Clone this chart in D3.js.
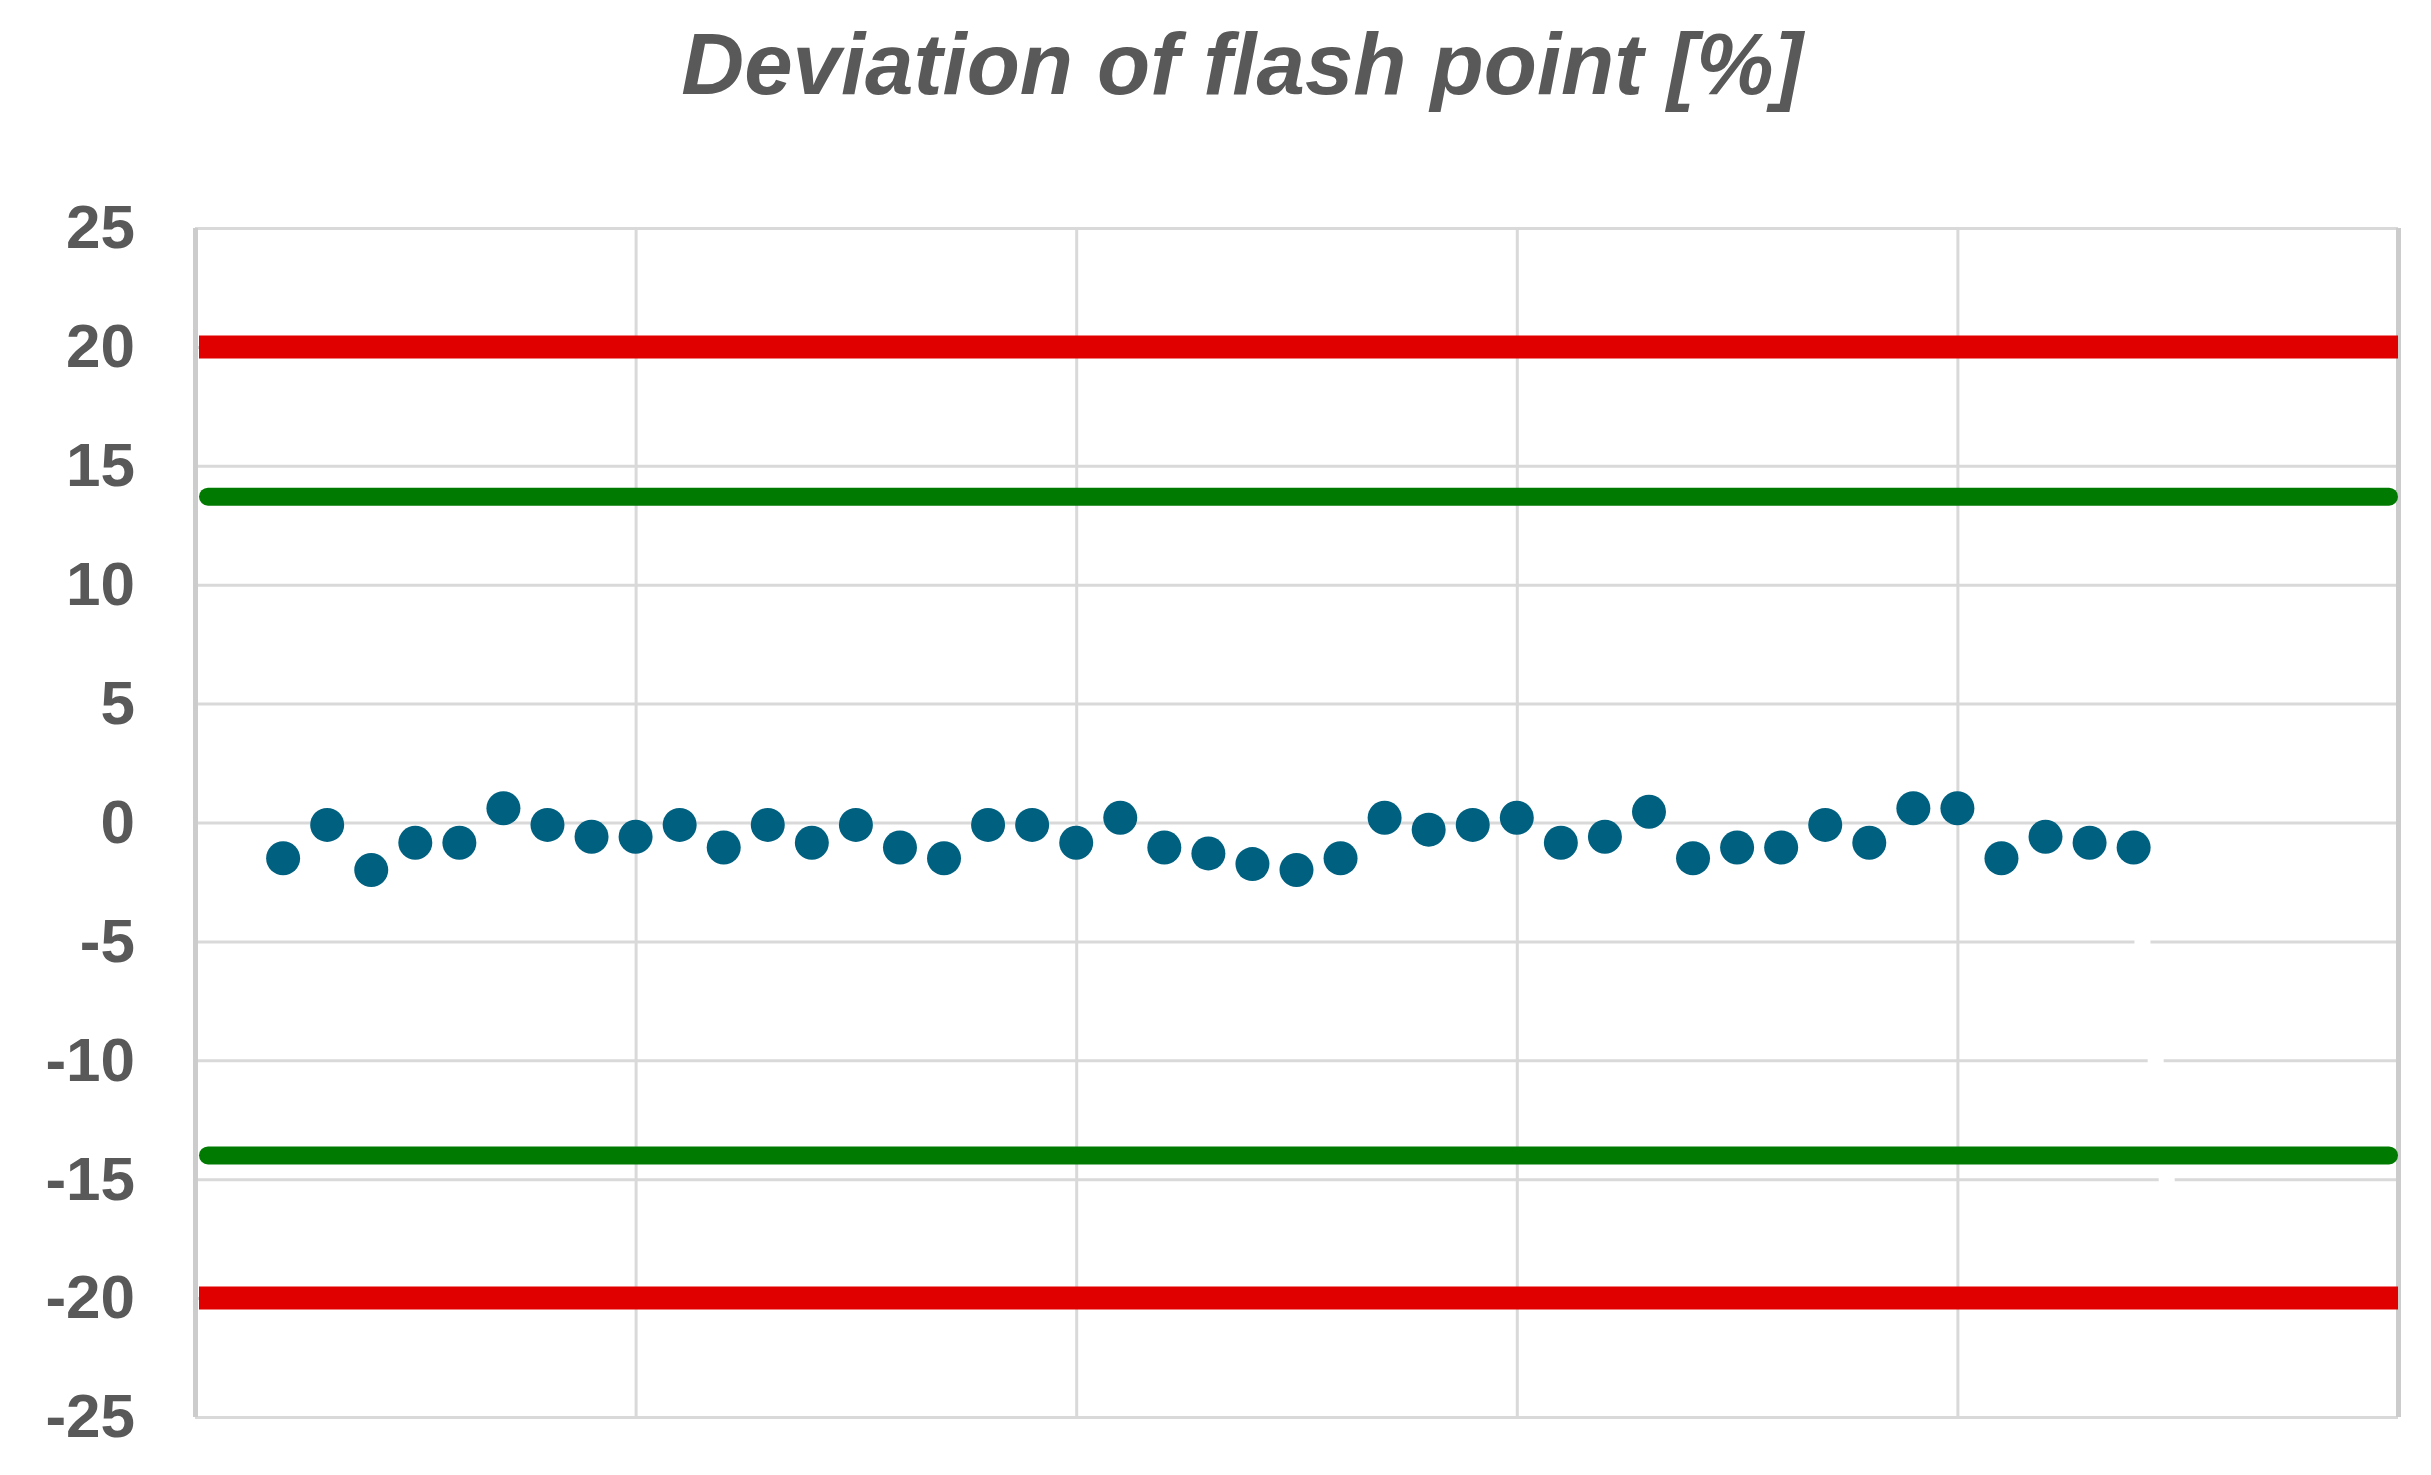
<!DOCTYPE html>
<meta charset="utf-8">
<style>
    body { margin: 0; background: #fff; }
    text { font-family: "Liberation Sans", Arial, sans-serif; }
</style>

<svg width="2431" height="1475"></svg>
<script src="https://d3js.org/d3.v7.min.js"></script>
<script>

    // data
    var title = "Deviation of flash point [%]";
    var sampleX = [2,3,4,5,6,7,8,9,10,11,12,13,14,15,16,17,18,19,20,21,22,
                   23,24,25,26,27,28,29,30,31,32,33,34,35,36,37,38,39,40,41,42,43,44];
    var deviation = [-1.5,-0.1,-2.0,-0.85,-0.85,0.6,-0.1,-0.6,-0.6,-0.1,-1.05,-0.1,-0.85,-0.1,-1.05,
                     -1.5,-0.1,-0.1,-0.85,0.2,-1.05,-1.3,-1.75,-2.0,-1.5,0.2,-0.3,-0.1,0.2,-0.85,
                     -0.6,0.45,-1.5,-1.05,-1.05,-0.1,-0.85,0.6,0.6,-1.5,-0.6,-0.85,-1.05];
    var redLimits = [20, -20];
    var greenLimits = [13.7, -14];
    var yTicks = [25,20,15,10,5,0,-5,-10,-15,-20,-25];
    var xTicks = [0,10,20,30,40,50];
    // hidden white series, only visible where it cuts the gridlines
    var hiddenX = [44.2, 44.5, 44.75];
    var hiddenY = [-5, -10, -15];

    var svg = d3.select("svg"),
        plotLeft = 195, plotRight = 2398, plotTop = 228, plotBottom = 1417;

    var x = d3.scaleLinear().domain([0, 50]).range([plotLeft, plotRight]);
    var y = d3.scaleLinear().domain([-25, 25]).range([plotBottom, plotTop]);

    //gridlines
    svg.append("g")
        .attr("transform", "translate(" + plotLeft + ",0)")
        .call(d3.axisLeft(y).tickValues(yTicks).tickSize(-(plotRight - plotLeft)).tickFormat(""))
        .call(function(g){ g.select(".domain").remove(); })
        .selectAll("line")
            .attr("stroke", "#d9d9d9")
            .attr("stroke-width", 3);

    svg.append("g")
        .attr("transform", "translate(0," + plotBottom + ")")
        .call(d3.axisBottom(x).tickValues(xTicks).tickSize(-(plotBottom - plotTop)).tickFormat(""))
        .call(function(g){ g.select(".domain").remove(); })
        .selectAll("line")
            .attr("stroke", function(d){ return (d == 0 || d == 50) ? "#cccccc" : "#d9d9d9"; })
            .attr("stroke-width", function(d){ return (d == 0 || d == 50) ? 5 : 3; });

    //hidden series (white dashes)
    svg.append("g").selectAll("line")
        .data(hiddenX)
        .enter().append("line")
            .attr("x1", function(d){ return x(d) - 8; })
            .attr("x2", function(d){ return x(d) + 8; })
            .attr("y1", function(d, i){ return y(hiddenY[i]); })
            .attr("y2", function(d, i){ return y(hiddenY[i]); })
            .attr("stroke", "#ffffff")
            .attr("stroke-width", 6);

    //limit lines
    svg.append("g").selectAll("line")
        .data(redLimits)
        .enter().append("line")
            .attr("x1", x(0) + 4)
            .attr("x2", x(50))
            .attr("y1", function(d){ return y(d); })
            .attr("y2", function(d){ return y(d); })
            .attr("stroke", "#e00000")
            .attr("stroke-width", 23);

    svg.append("g").selectAll("line")
        .data(greenLimits)
        .enter().append("line")
            .attr("x1", x(0) + 13)
            .attr("x2", x(50) - 9)
            .attr("y1", function(d){ return y(d); })
            .attr("y2", function(d){ return y(d); })
            .attr("stroke", "#007a00")
            .attr("stroke-width", 18)
            .attr("stroke-linecap", "round");

    //points
    svg.append("g").selectAll("circle")
        .data(deviation)
        .enter().append("circle")
            .attr("cx", function(d, i){ return x(sampleX[i]); })
            .attr("cy", function(d){ return y(d); })
            .attr("r", 17)
            .attr("fill", "#006080");

    //y axis labels (plain hyphen for minus, like the original)
    svg.append("g")
        .attr("transform", "translate(" + plotLeft + ",0)")
        .call(d3.axisLeft(y).tickValues(yTicks).tickSize(0).tickPadding(60)
            .tickFormat(function(d){ return String(d); }))
        .call(function(g){ g.select(".domain").remove(); })
        .selectAll("text")
            .attr("fill", "#595959")
            .style("font-size", "62px")
            .style("font-weight", "bold");

    //title
    svg.append("text")
        .attr("x", 1242)
        .attr("y", 94)
        .attr("text-anchor", "middle")
        .attr("fill", "#595959")
        .style("font-size", "87px")
        .style("font-weight", "bold")
        .style("font-style", "italic")
        .text(title);
</script>
